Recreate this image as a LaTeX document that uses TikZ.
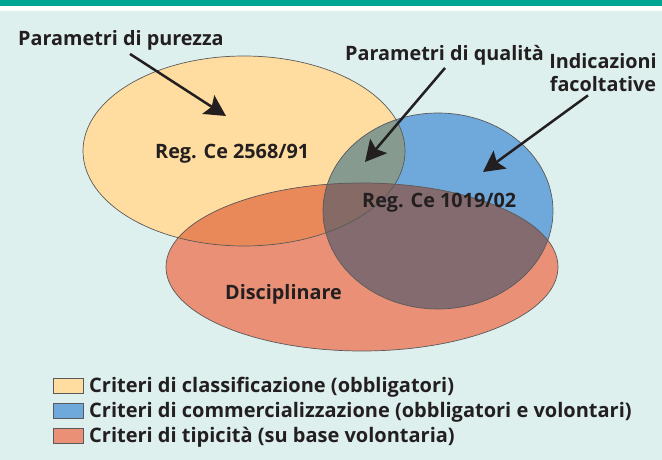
\documentclass[tikz,border=0pt]{standalone}
\usepackage{fontspec}
\setmainfont{Open Sans}
\usetikzlibrary{arrows.meta}

\definecolor{bandgreen}{HTML}{00A693}
\definecolor{paper}{HTML}{DDF0EE}
\definecolor{classyel}{HTML}{FFDDA0}
\definecolor{commblue}{HTML}{6FA8DA}
\definecolor{tipsalmon}{HTML}{E99077}
\definecolor{yelblue}{HTML}{879A90}
\definecolor{yelsalmon}{HTML}{E98858}
\definecolor{bluesalmon}{HTML}{846B6F}
\definecolor{allthree}{HTML}{866A66}
\definecolor{rim}{HTML}{5A5A5A}
\definecolor{ink}{HTML}{231F20}

\begin{document}
\begin{tikzpicture}[x=1pt,y=-1pt,
   tag/.style={font=\fontsize{19.8}{23.5}\selectfont\bfseries,text=ink,inner sep=0pt},
   legtext/.style={font=\fontsize{20}{22}\selectfont\bfseries,text=ink,inner sep=0pt,anchor=base west},
   legbox/.style={draw=rim,line width=0.6pt,minimum width=30pt,minimum height=15pt,inner sep=0pt,anchor=north west},
   pointer/.style={draw=ink,line width=2.5pt,-{Stealth[length=21pt,width=22pt,inset=4pt]}},
   rimline/.style={draw=rim,line width=0.7pt}]

\useasboundingbox (0,0) rectangle (662,460);
\fill[paper] (0,0) rectangle (662,460);
\fill[white] (0,6) rectangle (662,11);
\fill[bandgreen] (0,0) rectangle (662,6);

% the three sets
\def\yelset{(244,151) ellipse [x radius=161pt,y radius=95pt]}
\def\blueset{(438,211) ellipse [x radius=115pt,y radius=98pt]}
\def\salset{(362,267) ellipse [x radius=196pt,y radius=84pt]}

\fill[classyel] \yelset;
\fill[commblue] \blueset;
\fill[tipsalmon] \salset;
\begin{scope}
  \clip \yelset;
  \fill[yelblue] \blueset;
  \fill[yelsalmon] \salset;
\end{scope}
\begin{scope}
  \clip \blueset;
  \fill[bluesalmon] \salset;
  \clip \yelset;
  \fill[allthree] \salset;
\end{scope}
\draw[rimline] \yelset;
\draw[rimline] \blueset;
\draw[rimline] \salset;

% texts
\node[tag,anchor=base west] (purezza) at (18,46) {Parametri di purezza};
\node[tag,anchor=base west] (qualita) at (345,61) {Parametri di qualità};
\node[tag,align=center,anchor=base] (facolt) at (603,92) {Indicazioni\\facoltative};
\node[tag,anchor=base west] (reg91) at (155,158) {Reg. Ce 2568/91};
\node[tag,anchor=base west] (reg02) at (362,207) {Reg. Ce 1019/02};
\node[tag,anchor=base west] (discip) at (225,299) {Disciplinare};

% pointers
\coordinate (tipyel) at (226,116);
\coordinate (tipqual) at (365,162);
\coordinate (tipblue) at (483,172);
\draw[pointer] ([xshift=112pt,yshift=-3pt]purezza.south west) -- (tipyel);
\draw[pointer] ([xshift=100pt,yshift=-2pt]qualita.south west) -- (tipqual);
\draw[pointer] ([xshift=-15pt,yshift=-3pt]facolt.south) -- (tipblue);

% legend
\node[legbox,fill=classyel] (boxcl) at (53,378) {};
\node[legbox,fill=commblue] (boxco) at (53,403) {};
\node[legbox,fill=tipsalmon] (boxti) at (53,428) {};
\node[legtext] (legcl) at (89,392) {Criteri di classificazione (obbligatori)};
\node[legtext] (legco) at (89,417) {Criteri di commercializzazione (obbligatori e volontari)};
\node[legtext] (legti) at (89,442) {Criteri di tipicità (su base volontaria)};
\end{tikzpicture}
\end{document}
